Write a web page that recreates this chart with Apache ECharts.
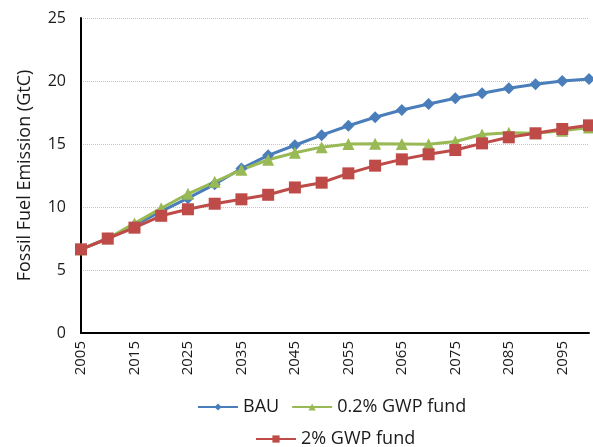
<!DOCTYPE html>
<html>
<head>
<meta charset="utf-8">
<script src="https://cdn.jsdelivr.net/npm/echarts@6/dist/echarts.min.js"></script>
<style>
html,body{margin:0;padding:0;background:#fff;}
#c{width:593px;height:447px;}
</style>
</head>
<body>
<div id="c"></div>
<script>
var years = ['2005','2010','2015','2020','2025','2030','2035','2040','2045','2050','2055','2060','2065','2070','2075','2080','2085','2090','2095','2100'];
var bau = [6.64, 7.5, 8.55, 9.65, 10.7, 11.8, 13.05, 14.1, 14.9, 15.7, 16.45, 17.12, 17.7, 18.17, 18.63, 19.02, 19.42, 19.74, 20.0, 20.16];
var gwp02 = [6.64, 7.5, 8.7, 9.9, 11.05, 12.0, 12.95, 13.75, 14.3, 14.75, 15.0, 15.02, 15.0, 14.98, 15.2, 15.75, 15.9, 15.85, 16.05, 16.3];
var gwp2 = [6.64, 7.5, 8.36, 9.3, 9.82, 10.26, 10.61, 10.97, 11.55, 11.93, 12.67, 13.28, 13.78, 14.18, 14.52, 15.05, 15.53, 15.85, 16.19, 16.48];
var seriesNames = ['BAU', '0.2% GWP fund', '2% GWP fund'];
var yTitle = 'Fossil Fuel Emission (GtC)';

var FONT = '"Open Sans", "DejaVu Sans", sans-serif';
var chart = echarts.init(document.getElementById('c'), null, {renderer: 'canvas'});
chart.setOption({
  animation: false,
  backgroundColor: '#ffffff',
  textStyle: {fontFamily: FONT},
  grid: {left: 81, right: 4, top: 18, bottom: 114},
  legend: [
    {
      data: [seriesNames[0], seriesNames[1]],
      left: 192, top: 393,
      itemWidth: 40, itemHeight: 9, itemGap: 12,
      textStyle: {fontSize: 18, color: '#1a1a1a', fontFamily: FONT}
    },
    {
      data: [seriesNames[2]],
      left: 250, top: 425,
      itemWidth: 40, itemHeight: 9,
      textStyle: {fontSize: 18, color: '#1a1a1a', fontFamily: FONT}
    }
  ],
  xAxis: {
    type: 'category',
    data: years,
    boundaryGap: false,
    axisLine: {lineStyle: {color: '#000', width: 2}},
    axisTick: {show: false},
    axisLabel: {rotate: 90, interval: 1, margin: 8, fontSize: 15, color: '#1a1a1a', fontFamily: FONT},
    splitLine: {show: false}
  },
  yAxis: {
    type: 'value',
    min: 0, max: 25, interval: 5,
    name: yTitle,
    nameLocation: 'middle',
    nameGap: 47,
    nameTextStyle: {fontSize: 18, color: '#1a1a1a', fontFamily: FONT},
    axisLine: {show: true, lineStyle: {color: '#000', width: 2}},
    axisTick: {show: false},
    axisLabel: {margin: 15, fontSize: 16, color: '#1a1a1a', fontFamily: FONT},
    splitLine: {lineStyle: {color: '#c4c4c4', width: 1, type: 'dotted'}}
  },
  series: [
    {
      name: seriesNames[0], type: 'line', data: bau,
      symbol: 'diamond', symbolSize: 12,
      lineStyle: {color: '#4A7EBB', width: 3},
      itemStyle: {color: '#4A7EBB'}
    },
    {
      name: seriesNames[1], type: 'line', data: gwp02,
      symbol: 'triangle', symbolSize: 12,
      lineStyle: {color: '#98B954', width: 3},
      itemStyle: {color: '#98B954'}
    },
    {
      name: seriesNames[2], type: 'line', data: gwp2,
      symbol: 'rect', symbolSize: 12,
      lineStyle: {color: '#BE4B48', width: 3},
      itemStyle: {color: '#BE4B48'}
    }
  ]
});
</script>
</body>
</html>
